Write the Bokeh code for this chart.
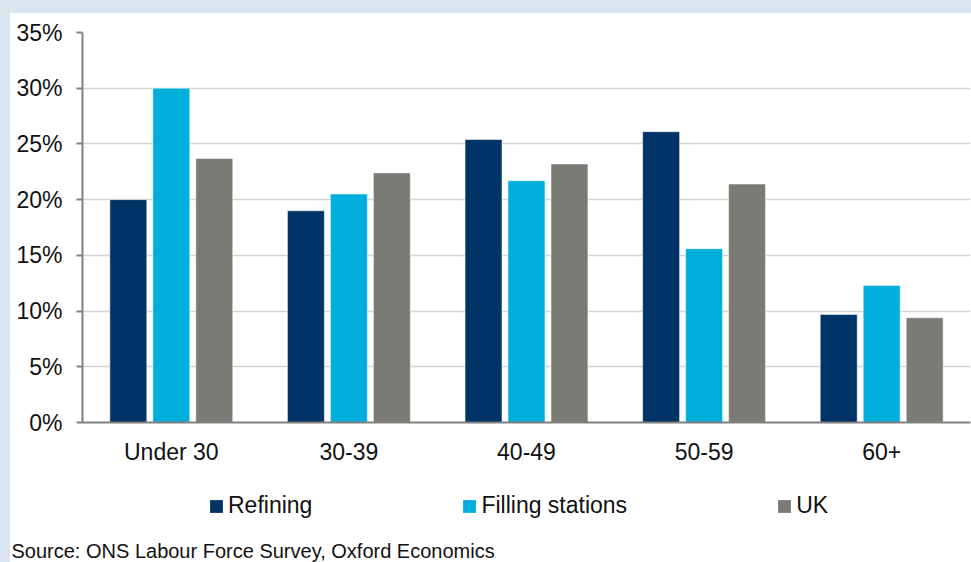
from bokeh.plotting import figure
from bokeh.models import (ColumnDataSource, FactorRange, FixedTicker, Legend,
                          LegendItem, Label, Spacer)
from bokeh.layouts import column, row
from bokeh.transform import dodge
from bokeh.embed import file_html
from bokeh.resources import INLINE

# Share of workforce by age band (%)
age_groups = ["Under 30", "30-39", "40-49", "50-59", "60+"]
refining = [20.0, 19.0, 25.4, 26.1, 9.7]
filling_stations = [30.0, 20.5, 21.7, 15.6, 12.3]
uk = [23.7, 22.4, 23.2, 21.4, 9.4]

series_names = ["Refining", "Filling stations", "UK"]
series_colors = ["#003366", "#00aedc", "#7a7b75"]

y_ticks = [0, 5, 10, 15, 20, 25, 30, 35]
y_tick_labels = ["0%", "5%", "10%", "15%", "20%", "25%", "30%", "35%"]

source_note = "Source: ONS Labour Force Survey, Oxford Economics"

FONT = "Liberation Sans"
TEXT = "#111111"
STRIP = "#dbe5f0"
LABEL_SIZE = "23px"

source = ColumnDataSource(dict(group=age_groups, refining=refining,
                               filling=filling_stations, uk=uk))
cols = ["refining", "filling", "uk"]
offsets = [-0.242, 0.0, 0.242]

# ---- main bar chart ----
p = figure(x_range=FactorRange(*age_groups, range_padding=0),
           y_range=(0, 35), width=961, height=457,
           output_backend="svg", toolbar_location=None,
           min_border_left=72, min_border_right=1,
           min_border_top=19, min_border_bottom=48)
p.background_fill_color = "white"
p.border_fill_color = "white"
p.outline_line_color = None

for col, off, color in zip(cols, offsets, series_colors):
    p.vbar(x=dodge("group", off, range=p.x_range), top=col, width=0.208,
           source=source, fill_color=color, line_color="white",
           line_alpha=0.5, line_width=1)

p.xgrid.grid_line_color = None
p.ygrid.grid_line_color = "#d4d4d0"
p.ygrid.grid_line_width = 1.6
p.ygrid.ticker = FixedTicker(ticks=y_ticks)

p.yaxis.ticker = FixedTicker(ticks=y_ticks)
p.yaxis.major_label_overrides = {t: s for t, s in zip(y_ticks, y_tick_labels)}
p.yaxis.axis_line_color = "#808080"
p.yaxis.axis_line_width = 2
p.yaxis.major_tick_line_color = "#808080"
p.yaxis.major_tick_line_width = 2
p.yaxis.major_tick_out = 6
p.yaxis.major_tick_in = 0
p.yaxis.minor_tick_line_color = None
p.yaxis.major_label_standoff = 14
p.yaxis.major_label_text_font = FONT
p.yaxis.major_label_text_font_size = LABEL_SIZE
p.yaxis.major_label_text_color = TEXT

p.xaxis.axis_line_color = "#808080"
p.xaxis.axis_line_width = 2
p.xaxis.major_tick_line_color = None
p.xaxis.major_tick_out = 0
p.xaxis.major_tick_in = 0
p.xaxis.major_label_standoff = 16
p.xaxis.major_label_text_font = FONT
p.xaxis.major_label_text_font_size = LABEL_SIZE
p.xaxis.major_label_text_color = TEXT

# ---- legend strip and source note ----
# the same series are drawn here far outside the visible y window, so only
# their legend swatches show
leg = figure(width=961, height=92,
             x_range=FactorRange(*age_groups, range_padding=0),
             y_range=(1000, 1001),
             output_backend="svg", toolbar_location=None,
             x_axis_location=None, y_axis_location=None,
             min_border=0)
leg.grid.visible = False
leg.outline_line_color = None
leg.background_fill_color = "white"
leg.border_fill_color = "white"

items = []
for name, col, off, color in zip(series_names, cols, offsets, series_colors):
    r = leg.vbar(x=dodge("group", off, range=leg.x_range), top=col,
                 width=0.208, source=source, fill_color=color,
                 line_color=None)
    items.append(LegendItem(label=name, renderers=[r]))

legend = Legend(items=items, location=(198, 43), orientation="horizontal",
                glyph_width=16, glyph_height=16, label_standoff=4,
                spacing=149, padding=0, margin=0, border_line_color=None,
                background_fill_alpha=0, label_text_font=FONT,
                label_text_font_size=LABEL_SIZE, label_text_color=TEXT,
                label_height=24)
leg.add_layout(legend, "center")

leg.add_layout(Label(x=1, y=12, x_units="screen", y_units="screen",
                     text=source_note, text_font=FONT, text_font_size="20px",
                     text_color=TEXT, text_baseline="alphabetic"))

top_strip = Spacer(width=971, height=13, styles={"background-color": STRIP})
left_strip = Spacer(width=10, height=457, styles={"background-color": STRIP})
left_strip2 = Spacer(width=10, height=92, styles={"background-color": STRIP})
layout = column(top_strip,
                row(left_strip, p, spacing=0),
                row(left_strip2, leg, spacing=0),
                spacing=0)

open("out.html", "w").write(file_html(layout, INLINE))
